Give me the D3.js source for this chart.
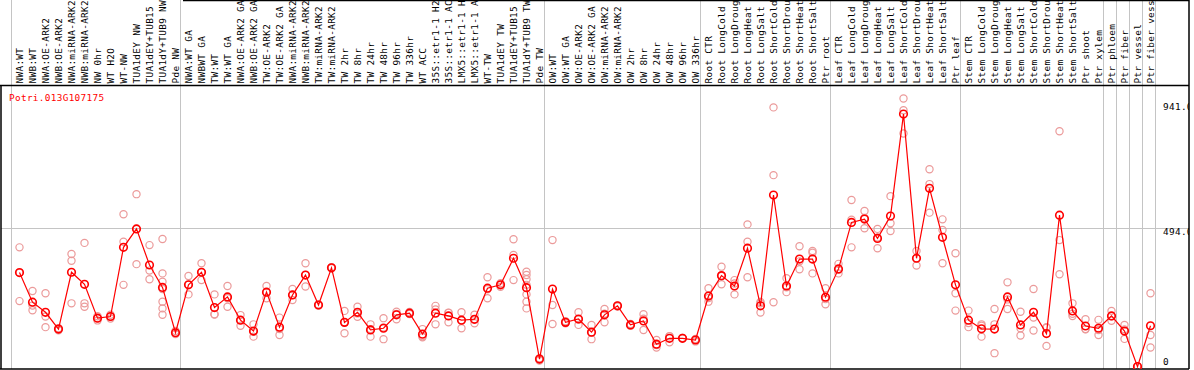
<!DOCTYPE html>
<html>
<head>
<meta charset="utf-8">
<script src="https://cdn.jsdelivr.net/npm/d3@7"></script>
<style>
  html, body { margin: 0; padding: 0; background: #fff; }
  svg { display: block; }
</style>
</head>
<body>
<svg id="chart" width="1194" height="370"></svg>
<script>
const categories = [
  "NWA:WT","NWB:WT","NWA:OE-ARK2","NWB:OE-ARK2","NWA:miRNA-ARK2","NWB:miRNA-ARK2",
  "NW 0hr","WT H2O","WT-NW","TUA1dEY NW","TUA1dEY+TUB15 NW","TUA1dY+TUB9 NW","Pde NW",
  "NWA:WT GA","NWBWT GA","TW:WT","TW:WT GA","NWA:OE-ARK2 GA","NWB:OE-ARK2 GA","TW:OE-ARK2",
  "TW:OE-ARK2 GA","NWA:miRNA-ARK2 GA","NWB:miRNA-ARK2 GA","TW:miRNA-ARK2","TW:miRNA-ARK2 GA",
  "TW 2hr","TW 8hr","TW 24hr","TW 48hr","TW 96hr","TW 336hr","WT ACC",
  "35S::etr1-1 H2O","35S::etr1-1 ACC","LMX5::etr1-1 H2O","LMX5::etr1-1 ACC","WT-TW",
  "TUA1dEY TW","TUA1dEY+TUB15 TW","TUA1dY+TUB9 TW","Pde TW",
  "OW:WT","OW:WT GA","OW:OE-ARK2","OW:OE-ARK2 GA","OW:miRNA-ARK2","OW:miRNA-ARK2 GA",
  "OW 2hr","OW 8hr","OW 24hr","OW 48hr","OW 96hr","OW 336hr",
  "Root CTR","Root LongCold","Root LongDrought","Root LongHeat","Root LongSalt",
  "Root ShortCold","Root ShortDrought","Root ShortHeat","Root ShortSalt","Ptr root",
  "Leaf CTR","Leaf LongCold","Leaf LongDrought","Leaf LongHeat","Leaf LongSalt",
  "Leaf ShortCold","Leaf ShortDrought","Leaf ShortHeat","Leaf ShortSalt","Ptr leaf",
  "Stem CTR","Stem LongCold","Stem LongDrought","Stem LongHeat","Stem LongSalt",
  "Stem ShortCold","Stem ShortDrought","Stem ShortHeat","Stem ShortSalt","Ptr shoot",
  "Ptr xylem","Ptr phloem","Ptr fiber","Ptr vessel","Ptr fiber vessel"
];

const meanValues = [
  336,230,194,134,337,294,173,179,426,492,363,283,121,
  292,337,211,249,166,127,266,141,256,327,220,353,
  158,194,131,137,185,191,116,191,181,166,169,280,292,387,282,27,
  277,158,170,123,185,217,149,163,80,101,101,95,
  252,325,288,423,217,613,288,384,384,248,
  349,515,527,458,538,902,387,637,462,292,
  166,135,134,249,149,194,118,541,199,145,137,
  181,127,0,146
];

const replicateValues = [
  [426,335,234],[270,218,201],[262,179,141],[133,130,137],[402,378,226],[442,226,214],
  [180,165,173],[185,172,178],[544,446,292],[616,492,366],[434,343,312],
  [456,333,303,277,232,208,185],[127,120,116],
  [324,292,258],[369,337,309],[258,187,186],[288,244,214],[184,166,146],[151,124,107],
  [288,265,244],[175,134,113],[277,256,238],[369,327,286],[222,218,220],[355,351,353],
  [199,158,119],[214,190,178],[151,134,107],[173,140,98],[196,188,169],[195,188,190],
  [134,108,105],[217,204,151],[193,192,158],[194,166,137],[185,168,155],[319,276,244],
  [298,292,285],[455,399,309],[339,327,312,292,258,232,208],[30,25,22],
  [452,220,152],[158,155,162],[194,168,149],[149,122,98],[206,189,158],[218,215,217],
  [152,146,149],[187,171,131],[95,77,68],[108,109,87],[102,100,102],[97,90,99],
  [280,245,232],[357,324,294],[309,297,258],[508,446,319],[226,231,193],[926,684,230],
  [316,283,266],[430,376,348],[413,407,333],[280,241,223],
  [367,346,333],[595,525,426],[556,531,494],[492,461,423],[609,512,484],[958,916,833],
  [413,387,361],[705,652,550],[526,488,369],[405,262,200],
  [200,156,141],[151,146,107],[206,151,48],[301,240,206],[196,137,111],[277,175,129],
  [139,141,74],[841,452,330],[226,189,181],[169,134,133],[167,131,113],
  [199,180,164],[149,133,99],[0,0,0],[262,113,68]
];

// index of the first category of each sample group
const groupStarts = [0,13,41,53,63,73,84,85,86,87];

const tickValues = [0,494,941];
const tickLabels = ["0","494.0","941.0"];
const geneName = "Potri.013G107175";

const plot = { left: 1, top: 85, right: 1189, bottom: 369 };
const mono = "'DejaVu Sans Mono', 'Liberation Mono', monospace";
const maxLabelChars = 14;

const svg = d3.select("#chart");

const idx = d3.range(categories.length);
const x = d3.scaleBand().domain(idx).range([13, 13 + 13 * categories.length]).padding(0);
const cx = i => x(i) + x.bandwidth() / 2;
const y = d3.scaleLinear().domain([0, 1006]).range([366.6, plot.top]);

svg.append("defs").append("clipPath").attr("id", "plotclip")
  .append("rect").attr("x", plot.left).attr("y", plot.top)
  .attr("width", plot.right - plot.left).attr("height", plot.bottom - plot.top);

// horizontal reference line (middle tick)
svg.append("line")
  .attr("x1", plot.left).attr("x2", plot.right)
  .attr("y1", Math.round(y(tickValues[1])) + 0.5).attr("y2", Math.round(y(tickValues[1])) + 0.5)
  .attr("stroke", "#c4c4c4").attr("stroke-width", 1);

// group separators (full height)
const sepX = groupStarts.map(i => x(i) - 2).concat([x.range()[1] - 2]);
svg.selectAll("line.sep").data(sepX).enter().append("line")
  .attr("class", "sep")
  .attr("x1", d => Math.round(d) + 0.5).attr("x2", d => Math.round(d) + 0.5)
  .attr("y1", 0).attr("y2", plot.bottom)
  .attr("stroke", "#c4c4c4").attr("stroke-width", 1);

// category labels (vertical), shown truncated as in the original
svg.append("g").selectAll("text").data(idx).enter().append("text")
  .attr("transform", i => `translate(${cx(i) + 3},${plot.top - 1.5}) rotate(-90)`)
  .attr("font-family", mono).attr("font-size", 9.4)
  .attr("letter-spacing", 0.32)
  .attr("fill", "#000")
  .text(i => categories[i].slice(0, maxLabelChars));

// frame lines
svg.append("line").attr("x1", plot.left - 1).attr("x2", plot.right)
  .attr("y1", plot.top + 0.5).attr("y2", plot.top + 0.5).attr("stroke", "#000").attr("stroke-width", 1.5);
svg.append("line").attr("x1", 183).attr("x2", plot.right)
  .attr("y1", 0.5).attr("y2", 0.5).attr("stroke", "#000").attr("stroke-width", 1.5);
svg.append("line").attr("x1", plot.left - 1).attr("x2", plot.right)
  .attr("y1", plot.bottom).attr("y2", plot.bottom).attr("stroke", "#000").attr("stroke-width", 1.5);
svg.append("line").attr("x1", plot.left).attr("x2", plot.left)
  .attr("y1", plot.top).attr("y2", plot.bottom).attr("stroke", "#000").attr("stroke-width", 1.5);
svg.append("line").attr("x1", plot.right).attr("x2", plot.right)
  .attr("y1", 0).attr("y2", plot.bottom).attr("stroke", "#000").attr("stroke-width", 1.5);

const g = svg.append("g").attr("clip-path", "url(#plotclip)");

// y tick labels
g.selectAll("text.tick").data(tickValues).enter().append("text")
  .attr("class", "tick")
  .attr("x", 1163)
  .attr("y", d => Math.min(y(d) + 7, plot.bottom - 4))
  .attr("font-family", mono).attr("font-size", 9.4).attr("letter-spacing", 0.32)
  .attr("fill", "#000")
  .text((d, i) => tickLabels[i]);

// gene name
g.append("text").attr("x", 9).attr("y", 101)
  .attr("font-family", mono).attr("font-size", 9.4).attr("letter-spacing", 0.32)
  .attr("fill", "#ff0000")
  .text(geneName);

// replicates
const reps = [];
replicateValues.forEach((arr, i) => arr.forEach(v => reps.push({ i, v })));
g.selectAll("circle.rep").data(reps).enter().append("circle")
  .attr("class", "rep")
  .attr("cx", d => cx(d.i)).attr("cy", d => y(d.v)).attr("r", 3.6)
  .attr("fill", "none").attr("stroke", "#eb9a9a").attr("stroke-width", 1.2);

// mean line
const line = d3.line().x((d, i) => cx(i)).y(d => y(d));
g.append("path").datum(meanValues).attr("d", line)
  .attr("fill", "none").attr("stroke", "#ff0000").attr("stroke-width", 1.2);

// mean points
g.selectAll("circle.mean").data(meanValues).enter().append("circle")
  .attr("class", "mean")
  .attr("cx", (d, i) => cx(i)).attr("cy", d => y(d)).attr("r", 3.8)
  .attr("fill", "none").attr("stroke", "#ff0000").attr("stroke-width", 1.6);
</script>
</body>
</html>
